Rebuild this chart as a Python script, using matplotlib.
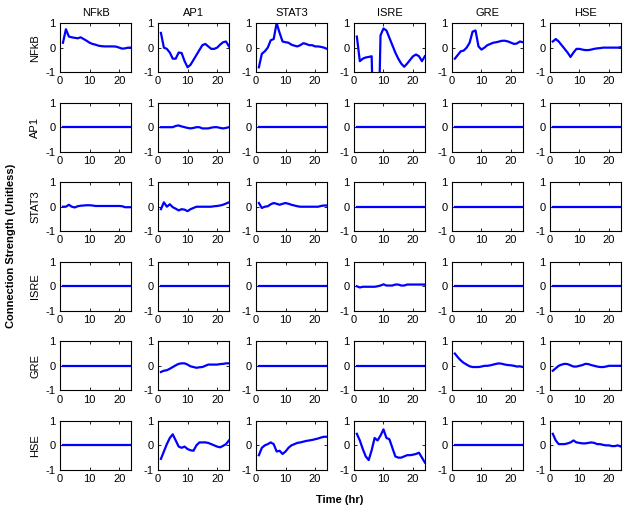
import numpy as np
import matplotlib
matplotlib.use("Agg")
import matplotlib.pyplot as plt

plt.rcParams['font.family'] = ['Liberation Sans', 'DejaVu Sans']
plt.rcParams['axes.unicode_minus'] = False

# factors (rows = source, columns = target)
factors = ['NFkB', 'AP1', 'STAT3', 'ISRE', 'GRE', 'HSE']

# time points (hr)
time_hr = list(range(1, 25))

# connection strengths, keyed by (row, column)
nfkb_nfkb = [0.2, 0.75, 0.45, 0.42, 0.4, 0.38, 0.42, 0.35, 0.28, 0.2, 0.15, 0.12,
             0.08, 0.06, 0.05, 0.05, 0.05, 0.05, 0.04, 0.0, -0.04, -0.03, 0.0, 0.0]
nfkb_ap1 = [0.6, 0.0, -0.05, -0.2, -0.45, -0.45, -0.2, -0.22, -0.55, -0.8, -0.7, -0.5,
            -0.3, -0.1, 0.1, 0.15, 0.05, -0.05, -0.05, 0.0, 0.12, 0.22, 0.25, 0.05]
nfkb_stat3 = [-0.8, -0.25, -0.15, 0.0, 0.3, 0.35, 1.0, 0.6, 0.25, 0.22, 0.2, 0.12,
              0.08, 0.05, 0.1, 0.18, 0.15, 0.1, 0.1, 0.05, 0.05, 0.03, 0.0, -0.05]
nfkb_isre = [0.45, -0.55, -0.45, -0.4, -0.38, -0.35, -5.0, -5.0, 0.5, 0.78, 0.7, 0.4,
             0.1, -0.2, -0.45, -0.65, -0.78, -0.65, -0.5, -0.35, -0.28, -0.35, -0.55, -0.35]
nfkb_gre = [-0.45, -0.3, -0.15, -0.12, 0.0, 0.2, 0.65, 0.7, 0.05, -0.08, 0.0, 0.1,
            0.15, 0.2, 0.22, 0.25, 0.28, 0.28, 0.25, 0.2, 0.15, 0.17, 0.25, 0.22]
nfkb_hse = [0.25, 0.35, 0.25, 0.1, -0.05, -0.2, -0.38, -0.2, -0.05, -0.05, -0.08, -0.1,
            -0.1, -0.08, -0.05, -0.03, -0.02, 0.0, 0.0, 0.0, 0.0, 0.0, 0.0, 0.02]
ap1_ap1 = [0, 0, 0, 0, 0, 0.05, 0.07, 0.03, 0.0, -0.03, -0.05, -0.03,
           0.0, 0.0, -0.05, -0.05, -0.05, -0.02, 0.0, 0.0, -0.03, -0.05, -0.03, 0.0]
stat3_nfkb = [0, 0, 0.08, 0.0, -0.03, 0.02, 0.04, 0.05, 0.06, 0.06, 0.05, 0.03,
              0.03, 0.03, 0.03, 0.03, 0.03, 0.03, 0.03, 0.03, 0.02, -0.02, -0.02, -0.02]
stat3_ap1 = [-0.1, 0.18, 0.0, 0.1, -0.02, -0.08, -0.15, -0.1, -0.12, -0.18, -0.1, -0.05,
             0.0, 0.0, 0.0, 0.0, 0.0, 0.0, 0.02, 0.03, 0.05, 0.08, 0.13, 0.18]
stat3_stat3 = [0.15, -0.05, 0.0, 0.02, 0.1, 0.15, 0.12, 0.08, 0.12, 0.15, 0.12, 0.08,
               0.05, 0.02, 0.0, 0.0, 0.0, 0.0, 0.0, 0.0, 0.0, 0.03, 0.05, 0.05]
isre_isre = [0.0, -0.05, -0.02, -0.02, -0.02, -0.02, -0.02, 0.0, 0.03, 0.08, 0.03, 0.03,
             0.03, 0.07, 0.07, 0.03, 0.03, 0.07, 0.07, 0.07, 0.07, 0.07, 0.07, 0.07]
gre_ap1 = [-0.25, -0.2, -0.18, -0.12, -0.05, 0.02, 0.08, 0.1, 0.1, 0.05, -0.02, -0.05,
           -0.08, -0.06, -0.05, 0.0, 0.05, 0.05, 0.05, 0.05, 0.07, 0.08, 0.1, 0.1]
gre_gre = [0.5, 0.35, 0.22, 0.12, 0.05, -0.02, -0.05, -0.05, -0.05, -0.03, 0.0, 0.0,
           0.02, 0.05, 0.08, 0.1, 0.08, 0.05, 0.03, 0.02, 0.0, -0.03, -0.02, -0.05]
gre_hse = [-0.2, -0.1, 0.0, 0.05, 0.08, 0.07, 0.02, -0.03, -0.03, 0.0, 0.03, 0.08,
           0.07, 0.03, 0.0, -0.03, -0.05, -0.05, -0.03, 0.0, 0.0, 0.0, 0.0, 0.0]
hse_ap1 = [-0.55, -0.25, 0.05, 0.3, 0.45, 0.2, -0.05, -0.1, -0.05, -0.15, -0.2, -0.22,
           0.0, 0.12, 0.12, 0.12, 0.1, 0.05, 0.0, -0.05, -0.08, -0.02, 0.05, 0.2]
hse_stat3 = [-0.4, -0.1, 0.0, 0.05, 0.12, 0.05, -0.25, -0.22, -0.35, -0.25, -0.1, 0.0,
             0.05, 0.1, 0.12, 0.15, 0.18, 0.2, 0.22, 0.25, 0.28, 0.32, 0.35, 0.35]
hse_isre = [0.47, 0.2, -0.15, -0.45, -0.6, -0.2, 0.3, 0.2, 0.4, 0.65, 0.3, 0.25,
            -0.1, -0.45, -0.5, -0.5, -0.45, -0.4, -0.4, -0.38, -0.35, -0.3, -0.5, -0.7]
hse_hse = [0.47, 0.2, 0.05, 0.05, 0.05, 0.08, 0.12, 0.2, 0.12, 0.1, 0.08, 0.08,
           0.1, 0.12, 0.1, 0.05, 0.05, 0.02, 0.0, 0.0, -0.03, -0.03, 0.0, -0.05]

zeros = [0.0] * len(time_hr)
curves = {
    (0, 0): nfkb_nfkb, (0, 1): nfkb_ap1, (0, 2): nfkb_stat3,
    (0, 3): nfkb_isre, (0, 4): nfkb_gre, (0, 5): nfkb_hse,
    (1, 1): ap1_ap1,
    (2, 0): stat3_nfkb, (2, 1): stat3_ap1, (2, 2): stat3_stat3,
    (3, 3): isre_isre,
    (4, 1): gre_ap1, (4, 4): gre_gre, (4, 5): gre_hse,
    (5, 1): hse_ap1, (5, 2): hse_stat3, (5, 3): hse_isre, (5, 5): hse_hse,
}

fig, axes = plt.subplots(6, 6, figsize=(6.29, 5.13), dpi=100)
fig.subplots_adjust(left=0.0954, right=0.987, top=0.955, bottom=0.084,
                    wspace=0.38, hspace=0.62)

for i in range(6):
    for j in range(6):
        ax = axes[i, j]
        ax.plot(time_hr, curves.get((i, j), zeros), color='#0000ff', lw=1.6)
        ax.set_xlim(0, 24)
        ax.set_ylim(-1, 1)
        ax.set_xticks([0, 10, 20])
        ax.set_yticks([-1, 0, 1])
        ax.tick_params(direction='in', length=2, width=0.6, labelsize=8,
                       top=True, right=True, pad=3)
        for sp in ax.spines.values():
            sp.set_linewidth(0.8)
        if i == 0:
            ax.set_title(factors[j], fontsize=8, pad=5)
        if j == 0:
            ax.set_ylabel(factors[i], fontsize=8, labelpad=4)

fig.text(0.018, 0.52, 'Connection Strength (Unitless)', rotation=90,
         ha='center', va='center', fontsize=8, fontweight='bold')
fig.text(0.54, 0.025, 'Time (hr)', ha='center', va='center',
         fontsize=8, fontweight='bold')

fig.savefig('out.png', dpi=100)
